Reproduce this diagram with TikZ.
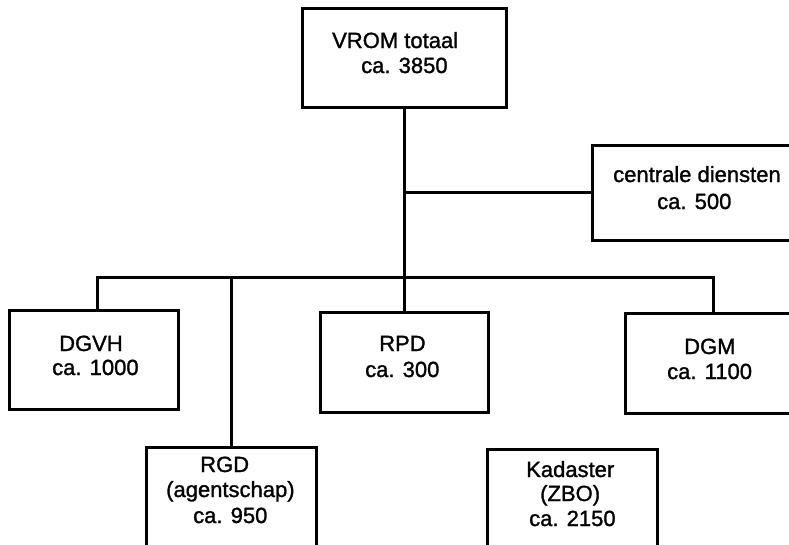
\documentclass[tikz,border=0pt]{standalone}
\usepackage{fontspec}
\setmainfont{Liberation Sans}
\newfontfamily\heavysans{Liberation Sans}[FakeBold=1.3]
\begin{document}
\begin{tikzpicture}[x=1pt,y=-1pt,
  box/.style={draw=black, line width=3pt, rectangle, inner sep=0pt},
  conn/.style={draw=black, line width=3pt},
  txt/.style={anchor=base west, inner sep=0pt, font=\heavysans\fontsize{22}{26}\selectfont}]
\useasboundingbox (0,0) rectangle (789,544);
\begin{scope}
\clip (0,0) rectangle (789,544);
% boxes
\node[box, minimum width=204pt, minimum height=99pt] (vrom) at (404,57.5) {};
\node[box, minimum width=210pt, minimum height=95pt] (cd) at (697,192.5) {};
\node[box, minimum width=169pt, minimum height=99pt] (dgvh) at (93.5,359.5) {};
\node[box, minimum width=168pt, minimum height=100pt] (rpd) at (404,362) {};
\node[box, minimum width=177pt, minimum height=100pt] (dgm) at (713.5,363) {};
\node[box, minimum width=170pt, minimum height=113pt] (rgd) at (231,503.5) {};
\node[box, minimum width=170pt, minimum height=111pt] (kad) at (572,504.5) {};
% junction points
\coordinate (jl) at (97,277);
\coordinate (jr) at (713,277);
% connectors
\draw[conn] (vrom.south) -- (rpd.north);
\draw[conn] (cd.west) -- (cd.west -| vrom.south);
\draw[conn] (jl |- dgvh.north) -- (jl) -- (jr) -- (jr |- dgm.north);
\draw[conn] (rgd.north |- jl) -- (rgd.north);
% texts
\node[txt] (t1) at (332,48) {VROM totaal};
\node[txt] (t2) at (361,73) {ca. 3850};
\node[txt] (t3) at (613,182) {centrale diensten};
\node[txt] (t4) at (657,209) {ca. 500};
\node[txt] (t5) at (59,351) {DGVH};
\node[txt] (t6) at (52,375) {ca. 1000};
\node[txt] (t7) at (379,351) {RPD};
\node[txt] (t8) at (365,377) {ca. 300};
\node[txt] (t9) at (684,354) {DGM};
\node[txt] (t10) at (667,379) {ca. 1100};
\node[txt] (t11) at (200,472) {RGD};
\node[txt] (t12) at (166,497) {(agentschap)};
\node[txt] (t13) at (193,523) {ca. 950};
\node[txt] (t14) at (526,477) {Kadaster};
\node[txt] (t15) at (540,501) {(ZBO)};
\node[txt] (t16) at (529,526) {ca. 2150};
\end{scope}
\end{tikzpicture}
\end{document}
